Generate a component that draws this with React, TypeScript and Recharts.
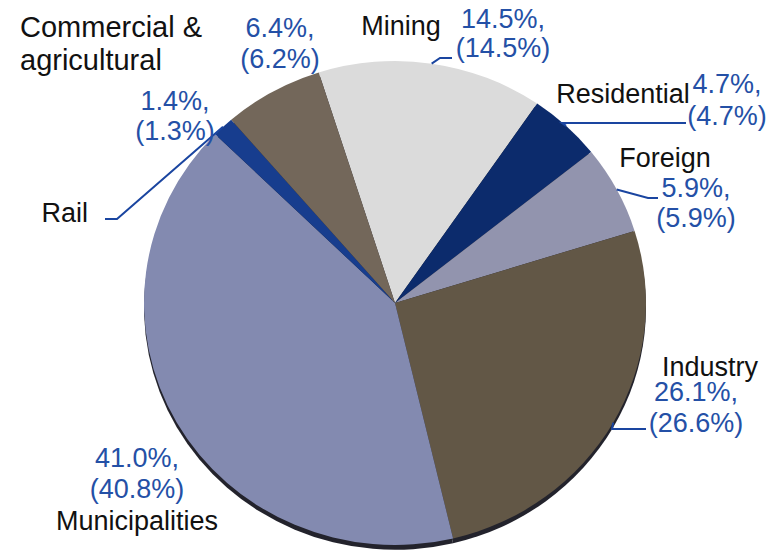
import { PieChart, Pie, Cell } from 'recharts'

const categories = ['Mining', 'Residential', 'Foreign', 'Industry', 'Municipalities', 'Rail', 'Commercial & agricultural']
const share = [14.5, 4.7, 5.9, 26.1, 41.0, 1.4, 6.4]
const priorShare = [14.5, 4.7, 5.9, 26.6, 40.8, 1.3, 6.2]
const sliceColors = ['#dbdbdb', '#0c2b6c', '#9294ae', '#625746', '#838ab0', '#173d8e', '#73675a']

const data = categories.map((name, i) => ({ name, value: share[i], prior: priorShare[i] }))

const CX = 395
const CY = 303
const RADIUS = 251
const SQUASH = 0.964
const FONT = '"Liberation Sans", Arial, sans-serif'
const BLUE = '#2450a6'
const LINE_BLUE = '#1a45a0'

type Layout = {
  name: string[]
  nameX: number
  nameY: number[]
  nameAnchor: 'start' | 'middle' | 'end'
  nameSize?: number
  pctX: number
  pctY: number[]
  leader?: number[][]
}

// hand placed like the source slide
const labelLayout: Record<string, Layout> = {
  Mining: { name: ['Mining'], nameX: 401, nameY: [35], nameAnchor: 'middle', pctX: 503, pctY: [28, 57], leader: [[440, 58], [452, 58]] },
  Residential: { name: ['Residential'], nameX: 623, nameY: [103], nameAnchor: 'middle', pctX: 727, pctY: [93, 125], leader: [[562, 123], [686, 123]] },
  Foreign: { name: ['Foreign'], nameX: 665, nameY: [167], nameAnchor: 'middle', pctX: 696, pctY: [197, 227], leader: [[648, 198], [658, 198]] },
  Industry: { name: ['Industry'], nameX: 710, nameY: [376], nameAnchor: 'middle', pctX: 696, pctY: [401, 432], leader: [[612, 429], [646, 429]] },
  Municipalities: { name: ['Municipalities'], nameX: 137, nameY: [530], nameAnchor: 'middle', pctX: 137, pctY: [467, 498] },
  Rail: { name: ['Rail'], nameX: 88, nameY: [222], nameAnchor: 'end', pctX: 175, pctY: [110, 140], leader: [[117, 219], [105, 219]] },
  'Commercial & agricultural': { name: ['Commercial &', 'agricultural'], nameX: 20, nameY: [37, 70], nameAnchor: 'start', nameSize: 29, pctX: 280, pctY: [37, 68] },
}

const renderLabel = (props: any) => {
  const { cx, cy, midAngle, outerRadius, index } = props
  const l = labelLayout[categories[index]]
  const rad = (-midAngle * Math.PI) / 180
  const sx = cx + outerRadius * Math.cos(rad)
  const sy = cy + outerRadius * Math.sin(rad) * SQUASH
  const pts = l.leader ? [[sx, sy], ...l.leader].map((p) => p.join(',')).join(' ') : null
  return (
    <g>
      {pts && <polyline points={pts} fill="none" stroke={LINE_BLUE} strokeWidth={2} />}
      {l.name.map((t, i) => (
        <text key={'n' + i} x={l.nameX} y={l.nameY[i]} textAnchor={l.nameAnchor} fill="#111" fontSize={l.nameSize || 27} fontFamily={FONT}>
          {t}
        </text>
      ))}
      <text x={l.pctX} y={l.pctY[0]} textAnchor="middle" fill={BLUE} fontSize={27} fontFamily={FONT}>
        {share[index].toFixed(1)}%,
      </text>
      <text x={l.pctX} y={l.pctY[1]} textAnchor="middle" fill={BLUE} fontSize={27} fontFamily={FONT}>
        ({priorShare[index].toFixed(1)}%)
      </text>
    </g>
  )
}

export default function App() {
  return (
    <div style={{ width: 780, height: 554 }}>
      <style>{`
        body { margin: 0; }
        .recharts-sector { transform-origin: ${CX}px ${CY}px; transform: scaleY(${SQUASH}); }
      `}</style>
      <PieChart width={780} height={554} margin={{ top: 0, right: 0, bottom: 0, left: 0 }}>
        {/* drop shadow under the pie */}
        <Pie
          data={data}
          dataKey="value"
          cx={CX}
          cy={CY + 5}
          outerRadius={RADIUS}
          startAngle={107.7}
          endAngle={-252.3}
          fill="#23232c"
          stroke="none"
          isAnimationActive={false}
        />
        <Pie
          data={data}
          dataKey="value"
          nameKey="name"
          cx={CX}
          cy={CY}
          outerRadius={RADIUS}
          startAngle={107.7}
          endAngle={-252.3}
          stroke="none"
          label={renderLabel}
          labelLine={false}
          isAnimationActive={false}
        >
          {data.map((d, i) => (
            <Cell key={d.name} fill={sliceColors[i]} />
          ))}
        </Pie>
      </PieChart>
    </div>
  )
}
